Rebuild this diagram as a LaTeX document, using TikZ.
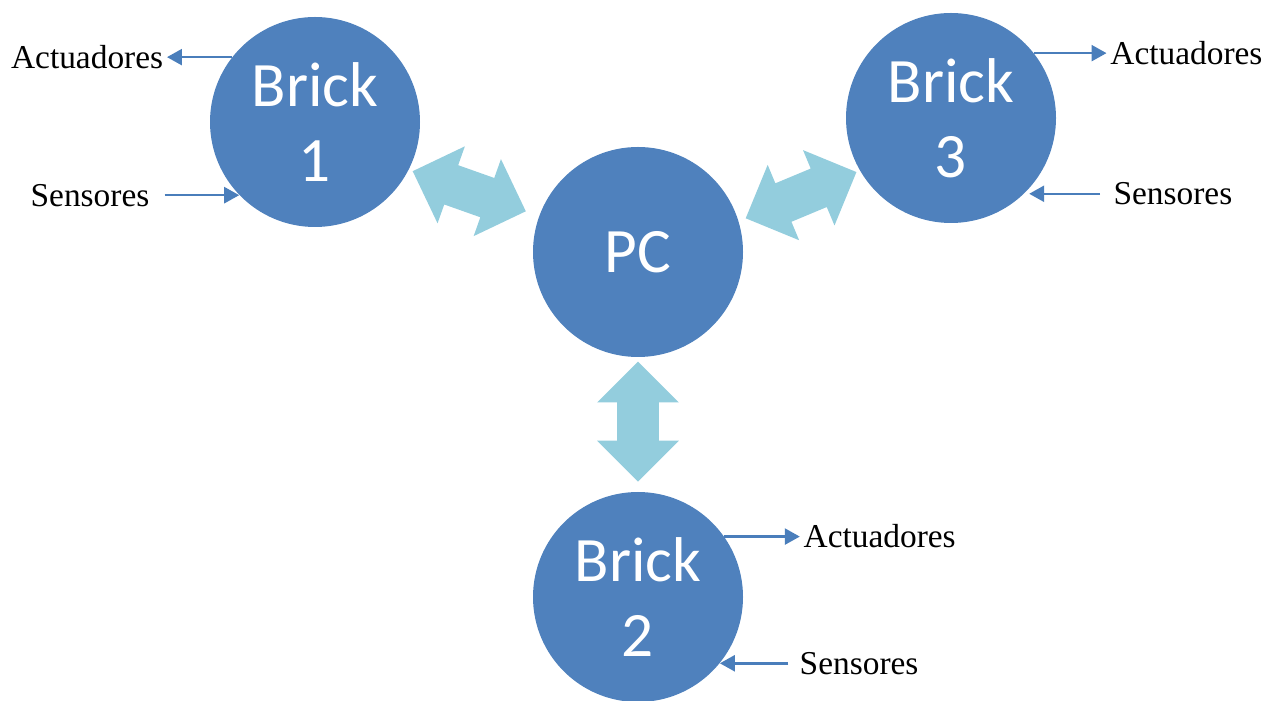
\documentclass[tikz,border=0pt]{standalone}
\usepackage{fontspec}
\setmainfont{Liberation Serif}
\newfontfamily\brickfont{Carlito}
\usetikzlibrary{arrows.meta, shapes.arrows}
\definecolor{brickblue}{HTML}{4F81BD}
\definecolor{linkblue}{HTML}{93CDDD}
\definecolor{sigblue}{HTML}{4A7EBB}

\begin{document}
\begin{tikzpicture}[
    brick/.style={circle, fill=brickblue, minimum size=4.2cm, inner sep=0pt, text=white, align=center, font=\brickfont\fontsize{36}{42.5}\selectfont},
    lbl/.style={inner sep=2pt, font=\fontsize{19}{21}\selectfont},
    link/.style={double arrow, fill=linkblue, inner xsep=0pt, inner ysep=0.41cm, minimum height=2.4cm, double arrow head extend=0.4cm, sloped},
    sig/.style={draw=sigblue, line width=1.4pt, -{Triangle[length=0.3cm, width=0.32cm]}},
  ]
  \useasboundingbox (0,0) rectangle (25.46,14);

  % PC and bricks
  \node[brick] (pc) at (12.76,8.96) {PC};
  \node[brick] (b1) at (6.30,11.56) {Brick\\1};
  \node[brick] (b2) at (12.76,2.06) {Brick\\2};
  \node[brick] (b3) at (19.02,11.64) {Brick\\3};

  % Links to the PC
  \path (b1.-27) -- (pc.160) node[link, pos=0.464] (l1) {};
  \path (pc.17) -- (b3.210) node[link, pos=0.515] (l3) {};
  \path (pc.south) -- (b2.north) node[link, pos=0.478] (l2) {};

  % Brick 1
  \node[lbl, anchor=east] (act1) at ([xshift=-1.3cm]b1.142) {Actuadores};
  \node[lbl, anchor=east] (sen1) at ([xshift=-1.72cm]b1.224) {Sensores};
  \draw[sig] (b1.142) -- (act1.east);
  \draw[sig, shorten <=0.23cm] (sen1.east) -- (b1.224);

  % Brick 3
  \node[lbl, anchor=west] (act3) at ([xshift=1.45cm]b3.38) {Actuadores};
  \node[lbl, anchor=west] (sen3) at ([xshift=1.71cm]b3.-46) {Sensores};
  \draw[sig] (b3.38) -- (act3.west);
  \draw[sig, shorten <=0.19cm, shorten >=0.1cm] (sen3.west) -- (b3.-46);

  % Brick 2
  \node[lbl, anchor=west] (act2) at ([xshift=1.51cm]b2.35) {Actuadores};
  \node[lbl, anchor=west] (sen2) at ([xshift=1.52cm]b2.-39) {Sensores};
  \draw[sig] (b2.35) -- (act2.west);
  \draw[sig, shorten <=0.15cm] (sen2.west) -- (b2.-39);
\end{tikzpicture}
\end{document}
